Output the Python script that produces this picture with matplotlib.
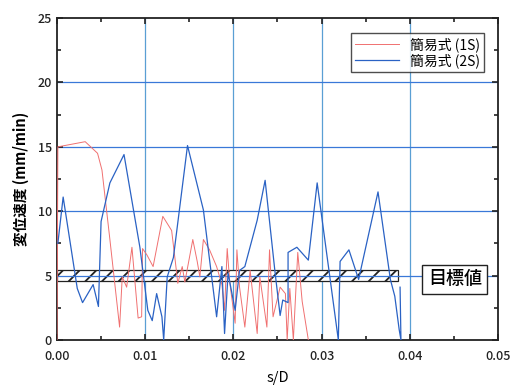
import numpy as np
import matplotlib
matplotlib.use("Agg")
import matplotlib.pyplot as plt
from matplotlib.patches import Rectangle
from matplotlib.ticker import MultipleLocator, FormatStrFormatter

plt.rcParams["font.family"] = ["Noto Sans CJK JP", "DejaVu Sans"]
plt.rcParams["hatch.linewidth"] = 1.3

# 簡易式 (1S)
s1 = [0.0000, 0.0001, 0.0032, 0.0046, 0.0051, 0.0060, 0.0071, 0.0074, 0.0079,
      0.0085, 0.0092, 0.0096, 0.0097, 0.0102, 0.0109, 0.0120, 0.0130, 0.0134,
      0.0137, 0.0142, 0.0145, 0.0154, 0.0159, 0.0162, 0.0166, 0.0173, 0.0181,
      0.0187, 0.0190, 0.0193, 0.0196, 0.0202, 0.0204, 0.0207, 0.0213, 0.0219,
      0.0227, 0.0230, 0.0238, 0.0241, 0.0245, 0.0253, 0.0259, 0.0261, 0.0264,
      0.0268, 0.0273, 0.0278, 0.0285]
v1 = [0.0, 15.0, 15.4, 14.5, 13.2, 7.8, 1.0, 4.9, 4.1,
      7.2, 1.7, 1.8, 7.1, 6.6, 5.7, 9.6, 8.5, 6.2,
      4.4, 5.7, 4.5, 7.8, 6.1, 4.9, 7.8, 7.0, 5.7,
      4.3, 2.3, 7.1, 4.4, 1.3, 7.0, 4.1, 1.0, 5.4,
      0.5, 4.9, 1.0, 7.0, 1.8, 4.1, 3.6, 0.0, 4.0,
      0.0, 6.8, 3.0, 0.0]

# 簡易式 (2S)
s2 = [0.0001, 0.0007, 0.0023, 0.0029, 0.0041, 0.0047, 0.0050, 0.0060, 0.0076,
      0.0094, 0.0103, 0.0108, 0.0113, 0.0119, 0.0121, 0.0125, 0.0132, 0.0148,
      0.0166, 0.0181, 0.0187, 0.0190, 0.0194, 0.0202, 0.0207, 0.0213, 0.0227,
      0.0236, 0.0247, 0.0253, 0.0256, 0.0262, 0.0262, 0.0272, 0.0285, 0.0295,
      0.0319, 0.0321, 0.0331, 0.0342, 0.0364, 0.0378, 0.0383, 0.0388, 0.0390,
      0.0389]
v2 = [7.5, 11.1, 4.0, 2.9, 4.3, 2.6, 9.2, 12.2, 14.4,
      7.2, 2.3, 1.5, 3.6, 1.8, 0.0, 4.9, 6.4, 15.1,
      10.1, 1.8, 5.7, 0.5, 5.2, 2.3, 5.4, 5.7, 9.3,
      12.4, 5.4, 1.9, 3.1, 2.9, 6.8, 7.2, 6.2, 12.2,
      0.0, 6.1, 7.0, 4.7, 11.5, 4.7, 3.4, 0.8, 0.0,
      4.1]

target = 5.0
target_half = 0.4
target_end = 0.0387

fig = plt.figure(figsize=(5.11, 3.85), dpi=100)
ax = fig.add_axes([0.1115, 0.117, 0.863, 0.836])

ax.set_xlim(0, 0.05)
ax.set_ylim(0, 25)
ax.xaxis.set_major_locator(MultipleLocator(0.01))
ax.xaxis.set_minor_locator(MultipleLocator(0.005))
ax.xaxis.set_major_formatter(FormatStrFormatter("%.2f"))
ax.yaxis.set_major_locator(MultipleLocator(5))
ax.yaxis.set_minor_locator(MultipleLocator(2.5))
ax.tick_params(which="both", direction="in", top=True, right=True,
               labelsize=9, width=1.2, colors="#222222")
ax.tick_params(which="major", length=4)
ax.tick_params(which="minor", length=3)
ax.tick_params(axis="x", pad=7)
for lab in ax.get_xticklabels() + ax.get_yticklabels():
    lab.set_fontweight("medium")
for sp in ax.spines.values():
    sp.set_linewidth(1.3)
    sp.set_color("#222222")

# grid
for gx in [0.01, 0.02, 0.03, 0.04]:
    ax.axvline(gx, color="#5a9fd4", lw=0.9, zorder=1)
for gy in [5, 10, 15, 20]:
    ax.axhline(gy, color="#3a78d8", lw=0.9, zorder=1)

# target band
band = Rectangle((0, target - target_half), target_end, 2 * target_half,
                 facecolor="white", edgecolor="#222222", hatch="//",
                 lw=0.9, zorder=2)
ax.add_patch(band)
ax.plot([0, target_end], [target, target], color="#3a78d8", lw=0.9, zorder=2.5)

ax.plot(s1, v1, color="#f07070", lw=0.7, label="簡易式 (1S)", zorder=3)
ax.plot(s2, v2, color="#2a62c4", lw=0.9, label="簡易式 (2S)", zorder=3)

ax.text(0.0451, 4.7, "目標値", fontsize=13, fontweight="medium",
        ha="center", va="center", zorder=5,
        bbox=dict(boxstyle="square,pad=0.3", facecolor="white",
                  edgecolor="#222222", lw=1.0))

leg = ax.legend(loc="upper right", fontsize=10, frameon=True, fancybox=False,
                borderpad=0.3, handlelength=3.2, labelspacing=0.1,
                bbox_to_anchor=(0.985, 0.975))
leg.get_frame().set_edgecolor("#222222")
leg.get_frame().set_linewidth(1.0)

ax.set_xlabel("s/D", fontsize=10.5, labelpad=6)
ax.set_ylabel("変位速度 (mm/min)", fontsize=10.5, fontweight="bold", labelpad=6)

fig.savefig("out.png", dpi=100)
